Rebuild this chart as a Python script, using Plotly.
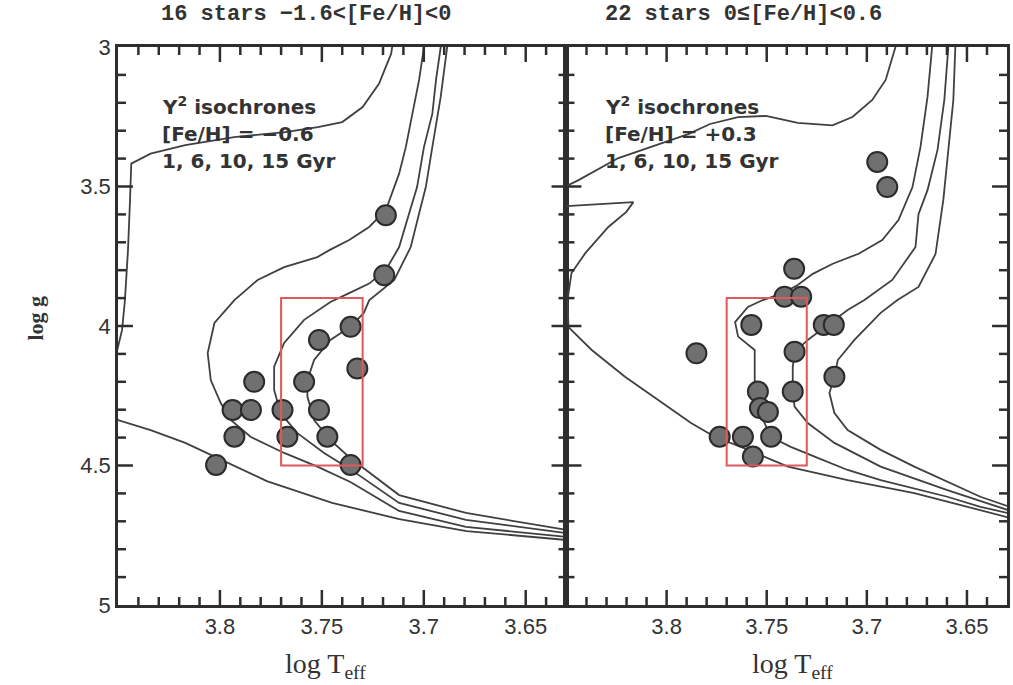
import plotly.graph_objects as go

# ---------------- data ----------------
X_TICKS = [3.8, 3.75, 3.7, 3.65]
X_TICKTEXT = ["3.8", "3.75", "3.7", "3.65"]
Y_TICKS = [3, 3.5, 4, 4.5, 5]
Y_TICKTEXT = ["3", "3.5", "4", "4.5", "5"]

TITLE_LEFT = "16 stars −1.6&lt;[Fe/H]&lt;0"
TITLE_RIGHT = "22 stars 0≤[Fe/H]&lt;0.6"
NOTE_LEFT = ["Y<sup>2</sup> isochrones", "[Fe/H] = −0.6", "1, 6, 10, 15 Gyr"]
NOTE_RIGHT = ["Y<sup>2</sup> isochrones", "[Fe/H] = +0.3", "1, 6, 10, 15 Gyr"]

# red selection box (log Teff, log g)
BOX_X = [3.77, 3.73]
BOX_Y = [3.9, 4.5]

# stars, left panel
STARS_L_TEFF = [3.7186, 3.7194, 3.7359, 3.7514, 3.7326, 3.7832, 3.7587, 3.7938,
                3.7848, 3.7693, 3.7514, 3.7929, 3.7669, 3.7473, 3.8019, 3.7359]
STARS_L_LOGG = [3.603, 3.818, 4.003, 4.050, 4.152, 4.200, 4.200, 4.301,
                4.301, 4.301, 4.301, 4.397, 4.397, 4.397, 4.498, 4.498]

# stars, right panel
STARS_R_TEFF = [3.6948, 3.6898, 3.7363, 3.7411, 3.7328, 3.7577, 3.7215, 3.7165,
                3.7361, 3.7851, 3.7162, 3.7544, 3.7370, 3.7534, 3.7494, 3.7735,
                3.7619, 3.7478, 3.7569]
STARS_R_LOGG = [3.412, 3.502, 3.795, 3.895, 3.895, 3.996, 3.996, 3.996,
                4.092, 4.098, 4.182, 4.235, 4.235, 4.294, 4.308, 4.397,
                4.397, 4.397, 4.468]

# isochrones, left panel ([Fe/H] = -0.6)
ISO_L1_X = [3.714, 3.7155, 3.716, 3.722, 3.730, 3.740, 3.752, 3.768, 3.793, 3.817, 3.834,
            3.8435, 3.8441, 3.8451, 3.8466, 3.848, 3.8515, 3.853, 3.85, 3.834, 3.817,
            3.801, 3.777, 3.745, 3.712, 3.679, 3.63]
ISO_L1_Y = [2.97, 3.0, 3.024, 3.132, 3.215, 3.269, 3.287, 3.305, 3.323, 3.352, 3.382,
            3.418, 3.548, 3.728, 3.907, 4.014, 4.12, 4.30, 4.337, 4.373, 4.419,
            4.473, 4.556, 4.634, 4.692, 4.735, 4.767]
ISO_L6_X = [3.6985, 3.6999, 3.7023, 3.7054, 3.7088, 3.7121, 3.7162, 3.7186, 3.7268, 3.7366,
            3.7463, 3.7522, 3.7685, 3.7815, 3.7929, 3.8027, 3.806, 3.8045, 3.7996, 3.7947,
            3.785, 3.7685, 3.7522, 3.736, 3.7121, 3.6793, 3.63]
ISO_L6_Y = [2.97, 3.0, 3.118, 3.239, 3.358, 3.454, 3.538, 3.584, 3.645, 3.692,
            3.728, 3.753, 3.789, 3.835, 3.907, 3.989, 4.097, 4.194, 4.276, 4.337,
            4.397, 4.455, 4.504, 4.559, 4.663, 4.720, 4.756]
ISO_L10_X = [3.691, 3.6917, 3.694, 3.6958, 3.6999, 3.7033, 3.7072, 3.7121, 3.7186, 3.7268,
             3.7366, 3.7458, 3.7587, 3.7685, 3.7734, 3.7734, 3.7703, 3.762, 3.7489, 3.7361,
             3.7121, 3.6793, 3.63]
ISO_L10_Y = [2.97, 3.0, 3.118, 3.239, 3.358, 3.502, 3.597, 3.717, 3.799, 3.848,
             3.882, 3.914, 3.978, 4.061, 4.146, 4.229, 4.312, 4.384, 4.455, 4.513,
             4.634, 4.695, 4.742]
ISO_L15_X = [3.688, 3.6885, 3.6917, 3.6958, 3.699, 3.7023, 3.7064, 3.7145, 3.7268, 3.7294,
             3.7361, 3.7458, 3.7538, 3.7571, 3.7571, 3.7538, 3.7458, 3.7361, 3.7121, 3.6793,
             3.63]
ISO_L15_Y = [2.97, 3.0, 3.179, 3.358, 3.502, 3.597, 3.717, 3.835, 3.908, 3.953,
             4.003, 4.050, 4.122, 4.194, 4.253, 4.337, 4.409, 4.473, 4.606, 4.670,
             4.731]

# isochrones, right panel ([Fe/H] = +0.3)
ISO_R1_X = [3.6872, 3.6857, 3.6906, 3.6973, 3.7072, 3.7172, 3.7345, 3.7504, 3.7643, 3.7783,
            3.7892, 3.8241, 3.844, 3.851, 3.855, 3.855, 3.85, 3.8166, 3.8201, 3.8291,
            3.8405, 3.8475, 3.8495, 3.849, 3.8374, 3.8208, 3.8042, 3.7878, 3.776, 3.7629,
            3.7394, 3.7096, 3.6763, 3.6433, 3.6299]
ISO_R1_Y = [2.97, 3.0, 3.118, 3.190, 3.251, 3.281, 3.272, 3.247, 3.251, 3.276,
            3.312, 3.398, 3.477, 3.502, 3.530, 3.566, 3.570, 3.556, 3.591, 3.645,
            3.738, 3.810, 3.907, 4.004, 4.086, 4.182, 4.265, 4.348, 4.397, 4.433,
            4.504, 4.552, 4.599, 4.659, 4.685]
ISO_R6_X = [3.6665, 3.6674, 3.6697, 3.6732, 3.6772, 3.6842, 3.6923, 3.7041, 3.717, 3.727,
            3.7345, 3.7419, 3.7519, 3.7594, 3.7658, 3.7643, 3.756, 3.756, 3.7544, 3.7529,
            3.7479, 3.738, 3.7261, 3.7096, 3.6931, 3.6763, 3.6598, 3.6433, 3.6299]
ISO_R6_Y = [2.97, 3.0, 3.179, 3.358, 3.502, 3.620, 3.692, 3.741, 3.777, 3.813,
            3.853, 3.882, 3.907, 3.932, 3.986, 4.038, 4.086, 4.194, 4.247, 4.319,
            4.398, 4.433, 4.468, 4.516, 4.552, 4.581, 4.612, 4.648, 4.670]
ISO_R10_X = [3.6593, 3.6593, 3.6613, 3.6647, 3.6697, 3.6742, 3.6757, 3.6822, 3.6873, 3.7012,
             3.7096, 3.7195, 3.7295, 3.736, 3.737, 3.737, 3.7361, 3.7295, 3.7162, 3.6931,
             3.6598, 3.6299]
ISO_R10_Y = [2.97, 3.0, 3.190, 3.369, 3.513, 3.599, 3.717, 3.781, 3.835, 3.907,
             3.943, 3.996, 4.050, 4.093, 4.147, 4.229, 4.289, 4.348, 4.419, 4.504,
             4.588, 4.659]
ISO_R15_X = [3.6553, 3.6558, 3.6568, 3.6593, 3.6618, 3.6657, 3.6742, 3.6847, 3.6931, 3.7062,
             3.7145, 3.7162, 3.7187, 3.7162, 3.7096, 3.6931, 3.6763, 3.6433, 3.6299]
ISO_R15_Y = [2.97, 3.0, 3.190, 3.369, 3.548, 3.742, 3.860, 3.907, 3.953, 4.050,
             4.122, 4.182, 4.240, 4.312, 4.373, 4.444, 4.504, 4.612, 4.645]

# tick positions (every 0.01 in log Teff, every 0.1 in log g)
X_MINOR = [round(3.64 + 0.01 * i, 2) for i in range(21)]
Y_MINOR = [round(3.1 + 0.1 * i, 1) for i in range(19)]

# ---------------- styles ----------------
LINE_COL = "#404040"
AX_COL = "#2e2e2e"
TICK_FONT = dict(family="Liberation Sans", size=22, color="#333333")
NOTE_FONT = dict(family="DejaVu Sans", size=20, color="#333333")

fig = go.Figure()


def add_iso(xs, ys, xa, ya):
    fig.add_trace(go.Scatter(x=xs, y=ys, mode="lines",
                             line=dict(color=LINE_COL, width=1.8),
                             xaxis=xa, yaxis=ya, showlegend=False, hoverinfo="skip"))


for xs, ys in [(ISO_L1_X, ISO_L1_Y), (ISO_L6_X, ISO_L6_Y),
               (ISO_L10_X, ISO_L10_Y), (ISO_L15_X, ISO_L15_Y)]:
    add_iso(xs, ys, "x", "y")
for xs, ys in [(ISO_R1_X, ISO_R1_Y), (ISO_R6_X, ISO_R6_Y),
               (ISO_R10_X, ISO_R10_Y), (ISO_R15_X, ISO_R15_Y)]:
    add_iso(xs, ys, "x2", "y2")

marker = dict(size=20, color="#707070", line=dict(color="#2b2b2b", width=2))
fig.add_trace(go.Scatter(x=STARS_L_TEFF, y=STARS_L_LOGG, mode="markers", marker=marker,
                         xaxis="x", yaxis="y", showlegend=False))
fig.add_trace(go.Scatter(x=STARS_R_TEFF, y=STARS_R_LOGG, mode="markers", marker=marker,
                         xaxis="x2", yaxis="y2", showlegend=False))

for xr, yr in [("x", "y"), ("x2", "y2")]:
    fig.add_shape(type="rect", xref=xr, yref=yr, x0=BOX_X[0], x1=BOX_X[1],
                  y0=BOX_Y[0], y1=BOX_Y[1], line=dict(color="#e0585c", width=2))

# tick marks on all four sides of both panels (inside)
PLOT_H = 558
PANEL_W = {"x": 450, "x2": 442}
MAJ_LEN, MIN_LEN = 15, 8
for xr, yr in [("x", "y"), ("x2", "y2")]:
    w = PANEL_W[xr]
    for v in X_MINOR:
        major = any(abs(v - t) < 1e-6 for t in X_TICKS)
        ln = (MAJ_LEN if major else MIN_LEN) / PLOT_H
        for y0, y1 in [(0, ln), (1, 1 - ln)]:
            fig.add_shape(type="line", xref=xr, yref=yr + " domain", x0=v, x1=v, y0=y0, y1=y1,
                          line=dict(color=AX_COL, width=2.5), layer="above")
    for v in Y_MINOR:
        major = any(abs(v - t) < 1e-6 for t in Y_TICKS)
        ln = (MAJ_LEN if major else MIN_LEN) / w
        for x0, x1 in [(0, ln), (1, 1 - ln)]:
            fig.add_shape(type="line", xref=xr + " domain", yref=yr, x0=x0, x1=x1, y0=v, y1=v,
                          line=dict(color=AX_COL, width=2.5), layer="above")

xcommon = dict(range=[3.85, 3.63], tickmode="array", tickvals=X_TICKS, ticktext=X_TICKTEXT,
               ticks="", showline=True, linewidth=2.5, linecolor=AX_COL, mirror=True,
               showgrid=False, zeroline=False, tickfont=TICK_FONT)
ycommon = dict(range=[5, 3], tickmode="array", tickvals=Y_TICKS, ticktext=Y_TICKTEXT,
               ticks="", showline=True, linewidth=2.5, linecolor=AX_COL, mirror=True,
               showgrid=False, zeroline=False, tickfont=TICK_FONT)

SPLIT = 450 / 892
fig.update_layout(
    width=1013, height=685,
    margin=dict(l=118, r=3, t=47, b=80),
    paper_bgcolor="white", plot_bgcolor="white",
    xaxis=dict(domain=[0, SPLIT], anchor="y", **xcommon),
    xaxis2=dict(domain=[SPLIT, 1], anchor="y2", **xcommon),
    yaxis=dict(domain=[0, 1], anchor="x", **ycommon),
    yaxis2=dict(domain=[0, 1], anchor="x2", showticklabels=False,
                **{k: v for k, v in ycommon.items() if k != "tickfont"}),
)

TITLE_FONT = dict(family="Liberation Mono", size=22, color="#333")
ann = []
ann.append(dict(text="<b>" + TITLE_LEFT + "</b>", x=0.212, y=1.058, xref="paper", yref="paper",
                xanchor="center", yanchor="middle", showarrow=False, font=TITLE_FONT))
ann.append(dict(text="<b>" + TITLE_RIGHT + "</b>", x=0.704, y=1.058, xref="paper", yref="paper",
                xanchor="center", yanchor="middle", showarrow=False, font=TITLE_FONT))
for i, yl in enumerate([0.894, 0.844, 0.796]):
    ann.append(dict(text="<b>" + NOTE_LEFT[i] + "</b>", x=0.047, y=yl, xref="paper", yref="paper",
                    xanchor="left", yanchor="middle", showarrow=False, font=NOTE_FONT))
    ann.append(dict(text="<b>" + NOTE_RIGHT[i] + "</b>", x=0.546, y=yl, xref="paper", yref="paper",
                    xanchor="left", yanchor="middle", showarrow=False, font=NOTE_FONT))
XT_FONT = dict(family="Liberation Serif", size=28, color="#333")
ann.append(dict(text="log T<sub>eff</sub>", x=0.233, y=-0.108, xref="paper", yref="paper",
                xanchor="center", yanchor="middle", showarrow=False, font=XT_FONT))
ann.append(dict(text="log T<sub>eff</sub>", x=0.759, y=-0.108, xref="paper", yref="paper",
                xanchor="center", yanchor="middle", showarrow=False, font=XT_FONT))
ann.append(dict(text="<b>log g</b>", x=-0.093, y=0.514, xref="paper", yref="paper", textangle=-90,
                xanchor="center", yanchor="middle", showarrow=False,
                font=dict(family="Liberation Serif", size=22, color="#333")))
fig.update_layout(annotations=ann)

fig.write_html("out.html")
